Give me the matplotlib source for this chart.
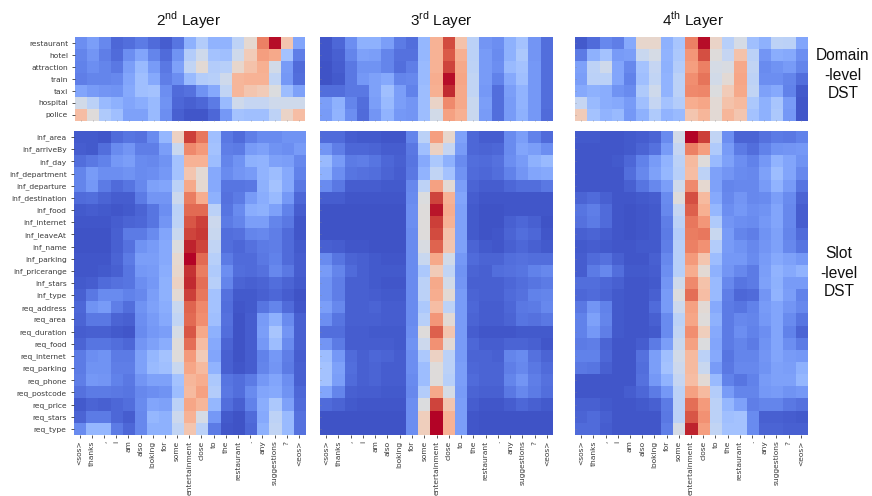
import matplotlib

matplotlib.use("Agg")
import matplotlib.pyplot as plt
import numpy as np
from matplotlib.colors import FuncNorm

plt.rcParams["font.family"] = ["Liberation Sans", "DejaVu Sans"]
plt.rcParams["mathtext.fontset"] = "custom"
plt.rcParams["mathtext.rm"] = "Liberation Sans"

tokens = ["<sos>", "thanks", ",", "i", "am", "also", "looking", "for", "some", "entertainment",
          "close", "to", "the", "restaurant", ".", "any", "suggestions", "?", "<eos>"]
domains = ["restaurant", "hotel", "attraction", "train", "taxi", "hospital", "police"]
slots = ["inf_area", "inf_arriveBy", "inf_day", "inf_department", "inf_departure", "inf_destination",
         "inf_food", "inf_internet", "inf_leaveAt", "inf_name", "inf_parking", "inf_pricerange",
         "inf_stars", "inf_type", "req_address", "req_area", "req_duration", "req_food",
         "req_internet", "req_parking", "req_phone", "req_postcode", "req_price", "req_stars",
         "req_type"]

# attention weights, 0-100
domain_2nd = [
    [20, 25, 18, 8, 10, 14, 9, 5, 12, 30, 40, 31, 31, 43, 55, 80, 99, 62, 27],
    [17, 22, 15, 9, 20, 27, 17, 9, 21, 40, 48, 36, 35, 48, 60, 73, 70, 36, 15],
    [16, 20, 17, 13, 25, 33, 24, 13, 26, 44, 54, 40, 41, 56, 63, 68, 49, 24, 9],
    [15, 17, 17, 18, 27, 35, 28, 15, 20, 33, 40, 41, 48, 66, 67, 67, 44, 23, 10],
    [27, 24, 22, 21, 28, 35, 36, 20, 9, 11, 21, 28, 44, 66, 62, 60, 52, 34, 26],
    [49, 42, 33, 30, 27, 29, 33, 21, 8, 6, 8, 14, 33, 48, 45, 45, 48, 48, 48],
    [64, 53, 39, 35, 26, 26, 33, 20, 6, 3, 3, 8, 23, 36, 35, 35, 43, 57, 64],
]
domain_3rd = [
    [3, 8, 20, 30, 30, 25, 14, 10, 32, 67, 91, 63, 42, 22, 20, 30, 36, 22, 10],
    [3, 6, 17, 26, 25, 17, 11, 11, 32, 67, 88, 68, 42, 24, 19, 30, 38, 22, 10],
    [2, 5, 13, 21, 21, 17, 10, 15, 33, 67, 92, 70, 43, 24, 20, 33, 36, 23, 10],
    [2, 4, 13, 23, 26, 28, 17, 18, 33, 69, 99, 71, 44, 24, 16, 28, 35, 23, 10],
    [10, 10, 13, 13, 26, 35, 25, 16, 34, 68, 96, 70, 44, 23, 10, 25, 31, 23, 10],
    [25, 30, 17, 10, 25, 33, 25, 22, 34, 57, 78, 70, 46, 25, 10, 24, 31, 23, 10],
    [24, 31, 20, 9, 22, 31, 23, 22, 34, 49, 72, 68, 46, 24, 10, 24, 30, 23, 9],
]
domain_4th = [
    [4, 9, 18, 15, 28, 56, 56, 30, 37, 80, 99, 57, 41, 50, 35, 30, 43, 42, 27],
    [14, 30, 36, 24, 25, 46, 50, 31, 38, 75, 90, 53, 45, 63, 42, 22, 29, 28, 20],
    [26, 43, 48, 27, 18, 36, 45, 30, 40, 73, 80, 50, 51, 70, 44, 19, 21, 24, 17],
    [25, 42, 42, 27, 16, 35, 44, 31, 42, 77, 83, 49, 54, 71, 43, 20, 20, 17, 10],
    [28, 30, 29, 21, 19, 39, 48, 31, 42, 78, 79, 52, 60, 70, 44, 26, 28, 16, 4],
    [45, 33, 29, 28, 24, 35, 45, 36, 40, 69, 71, 54, 63, 65, 38, 30, 37, 24, 3],
    [60, 36, 31, 33, 23, 30, 39, 31, 33, 62, 66, 54, 66, 62, 36, 30, 38, 23, 3],
]
slot_2nd = [
    [4, 4, 3, 9, 12, 11, 19, 32, 58, 93, 82, 35, 13, 9, 15, 19, 19, 21, 21],
    [5, 4, 10, 19, 22, 15, 15, 25, 46, 78, 74, 36, 15, 14, 24, 26, 21, 20, 24],
    [10, 13, 16, 23, 25, 19, 18, 21, 36, 67, 67, 34, 17, 21, 30, 31, 26, 25, 18],
    [17, 24, 20, 20, 21, 19, 20, 23, 36, 62, 54, 28, 19, 22, 24, 31, 34, 28, 16],
    [17, 23, 14, 9, 12, 18, 26, 27, 42, 70, 55, 28, 12, 12, 13, 30, 36, 28, 13],
    [9, 10, 7, 5, 5, 14, 22, 22, 47, 81, 69, 30, 11, 14, 24, 29, 33, 23, 8],
    [4, 5, 4, 3, 4, 7, 12, 20, 42, 85, 85, 42, 12, 19, 29, 30, 26, 16, 5],
    [3, 3, 3, 5, 7, 8, 12, 22, 43, 89, 93, 47, 14, 17, 25, 25, 17, 13, 3],
    [2, 2, 2, 6, 14, 14, 19, 27, 46, 92, 94, 46, 10, 11, 17, 18, 15, 9, 3],
    [2, 2, 2, 6, 11, 21, 24, 28, 52, 97, 92, 44, 10, 8, 11, 14, 15, 9, 4],
    [3, 3, 3, 7, 14, 25, 25, 28, 55, 100, 85, 41, 14, 9, 9, 13, 16, 9, 5],
    [3, 3, 4, 6, 12, 23, 24, 29, 56, 95, 81, 39, 20, 10, 9, 11, 18, 13, 5],
    [4, 5, 9, 11, 12, 20, 23, 30, 58, 96, 84, 41, 17, 7, 6, 7, 10, 7, 4],
    [6, 13, 19, 19, 16, 18, 25, 30, 54, 93, 82, 36, 11, 4, 4, 6, 8, 5, 2],
    [8, 21, 24, 15, 10, 21, 26, 29, 46, 86, 78, 36, 10, 3, 4, 12, 17, 9, 3],
    [7, 13, 13, 7, 6, 20, 24, 28, 44, 85, 77, 35, 11, 2, 5, 24, 30, 19, 6],
    [5, 6, 6, 4, 3, 19, 23, 25, 50, 89, 70, 30, 10, 2, 5, 25, 37, 22, 6],
    [7, 12, 12, 10, 8, 22, 26, 29, 53, 84, 64, 28, 7, 2, 5, 23, 34, 19, 6],
    [14, 20, 21, 14, 14, 26, 32, 36, 53, 74, 60, 27, 6, 2, 5, 16, 23, 15, 5],
    [14, 21, 21, 15, 15, 26, 33, 35, 46, 71, 65, 31, 6, 3, 5, 17, 22, 14, 6],
    [15, 23, 22, 16, 13, 22, 26, 26, 36, 66, 69, 38, 12, 10, 14, 23, 27, 20, 6],
    [11, 14, 14, 13, 12, 18, 20, 21, 34, 65, 72, 40, 13, 10, 19, 27, 28, 21, 8],
    [4, 7, 6, 8, 10, 19, 27, 26, 42, 71, 66, 32, 10, 6, 16, 29, 38, 26, 9],
    [7, 14, 14, 8, 5, 18, 32, 30, 47, 67, 50, 23, 4, 2, 9, 28, 43, 33, 11],
    [19, 32, 32, 14, 8, 18, 30, 30, 44, 62, 42, 14, 3, 2, 8, 30, 44, 33, 11],
]
slot_3rd = [
    [9, 9, 5, 4, 4, 3, 3, 17, 42, 73, 56, 26, 8, 5, 5, 19, 25, 16, 9],
    [22, 15, 8, 8, 7, 5, 5, 13, 35, 58, 45, 24, 8, 7, 8, 19, 27, 25, 20],
    [33, 24, 14, 15, 12, 8, 6, 12, 28, 38, 30, 19, 10, 9, 11, 20, 24, 30, 33],
    [30, 20, 12, 11, 10, 7, 5, 13, 31, 44, 36, 21, 9, 8, 10, 16, 22, 27, 28],
    [19, 13, 5, 5, 5, 4, 4, 18, 43, 72, 54, 25, 7, 5, 5, 8, 10, 10, 13],
    [5, 5, 3, 3, 3, 3, 3, 19, 52, 92, 67, 27, 5, 3, 3, 3, 3, 3, 3],
    [2, 2, 2, 2, 2, 2, 2, 20, 53, 98, 69, 26, 4, 2, 2, 3, 3, 3, 3],
    [2, 2, 2, 2, 2, 2, 2, 20, 53, 93, 67, 26, 4, 2, 2, 6, 8, 6, 2],
    [2, 2, 2, 2, 2, 2, 2, 19, 53, 91, 63, 26, 4, 2, 3, 7, 10, 8, 3],
    [6, 5, 3, 3, 2, 2, 2, 19, 51, 86, 62, 26, 7, 4, 3, 6, 8, 6, 4],
    [19, 12, 7, 6, 4, 3, 3, 19, 46, 70, 49, 23, 9, 7, 7, 10, 11, 10, 10],
    [24, 17, 9, 6, 4, 4, 4, 19, 38, 60, 44, 21, 7, 6, 10, 11, 12, 16, 18],
    [21, 15, 6, 6, 4, 3, 3, 19, 42, 70, 49, 22, 6, 6, 6, 8, 10, 12, 14],
    [21, 15, 6, 6, 5, 4, 4, 19, 42, 69, 54, 24, 7, 6, 6, 9, 11, 16, 17],
    [25, 18, 6, 6, 7, 5, 5, 19, 38, 64, 43, 24, 8, 5, 5, 8, 13, 14, 18],
    [20, 12, 6, 6, 6, 5, 5, 19, 41, 75, 54, 24, 7, 5, 5, 7, 12, 11, 13],
    [10, 10, 5, 5, 4, 4, 4, 20, 53, 87, 62, 24, 5, 3, 3, 3, 4, 4, 4],
    [22, 14, 5, 5, 5, 5, 4, 21, 47, 76, 54, 24, 8, 5, 5, 7, 7, 6, 3],
    [34, 23, 9, 6, 8, 7, 5, 20, 38, 58, 42, 24, 7, 7, 6, 17, 19, 11, 7],
    [36, 26, 10, 6, 7, 5, 5, 20, 34, 53, 42, 25, 8, 7, 7, 15, 18, 13, 9],
    [36, 25, 9, 6, 7, 5, 5, 19, 34, 53, 41, 25, 9, 7, 7, 17, 22, 15, 11],
    [27, 17, 6, 5, 5, 4, 4, 18, 40, 70, 50, 24, 7, 6, 6, 13, 18, 14, 10],
    [9, 7, 4, 3, 3, 3, 3, 20, 52, 92, 62, 25, 5, 3, 3, 5, 8, 6, 4],
    [2, 2, 2, 2, 2, 2, 2, 20, 59, 100, 67, 25, 3, 2, 2, 2, 2, 2, 2],
    [2, 2, 2, 2, 2, 2, 2, 20, 59, 100, 67, 25, 3, 2, 2, 2, 2, 2, 2],
]
slot_4th = [
    [4, 4, 3, 3, 4, 5, 7, 19, 49, 100, 93, 44, 20, 7, 7, 11, 14, 13, 16],
    [3, 3, 3, 3, 4, 7, 11, 24, 45, 80, 73, 39, 24, 14, 10, 16, 21, 22, 23],
    [3, 3, 3, 4, 8, 16, 24, 31, 42, 65, 53, 33, 26, 20, 16, 23, 31, 27, 21],
    [3, 3, 3, 3, 10, 18, 26, 32, 41, 64, 43, 26, 22, 19, 18, 26, 34, 27, 18],
    [3, 3, 3, 3, 6, 12, 18, 25, 48, 78, 55, 26, 17, 18, 18, 24, 31, 24, 12],
    [7, 9, 6, 3, 3, 4, 5, 19, 53, 90, 65, 28, 18, 22, 18, 19, 25, 19, 7],
    [12, 15, 9, 3, 2, 3, 4, 18, 45, 87, 68, 32, 20, 23, 20, 21, 27, 18, 5],
    [11, 14, 9, 3, 2, 3, 4, 15, 42, 82, 75, 39, 22, 20, 19, 23, 27, 18, 5],
    [6, 7, 5, 3, 2, 3, 4, 14, 40, 81, 82, 46, 24, 17, 15, 21, 26, 17, 9],
    [4, 5, 4, 3, 3, 4, 4, 15, 41, 80, 76, 40, 24, 21, 18, 22, 26, 18, 12],
    [5, 9, 11, 6, 3, 3, 6, 18, 41, 74, 62, 34, 23, 23, 19, 24, 28, 26, 23],
    [5, 14, 18, 10, 4, 4, 5, 20, 41, 69, 54, 30, 22, 18, 14, 25, 31, 28, 31],
    [10, 10, 8, 6, 3, 3, 4, 22, 48, 78, 63, 33, 18, 12, 14, 26, 30, 24, 24],
    [8, 9, 7, 4, 3, 3, 6, 24, 52, 84, 64, 33, 15, 8, 9, 22, 31, 25, 16],
    [13, 22, 16, 4, 3, 3, 9, 24, 47, 72, 54, 28, 14, 12, 16, 24, 27, 22, 18],
    [16, 26, 17, 4, 3, 3, 6, 19, 42, 71, 53, 30, 14, 18, 17, 23, 27, 19, 12],
    [16, 23, 15, 4, 3, 3, 4, 19, 44, 77, 59, 28, 14, 20, 16, 20, 27, 16, 7],
    [14, 15, 7, 3, 3, 5, 14, 25, 46, 72, 52, 27, 14, 17, 14, 21, 27, 20, 14],
    [16, 16, 8, 3, 3, 11, 25, 35, 49, 65, 42, 28, 12, 17, 17, 22, 27, 24, 23],
    [13, 12, 6, 3, 3, 10, 25, 36, 47, 65, 46, 24, 13, 18, 18, 21, 26, 25, 30],
    [3, 3, 3, 3, 3, 11, 23, 31, 45, 64, 54, 33, 16, 12, 16, 24, 26, 26, 32],
    [3, 3, 3, 3, 5, 8, 14, 23, 42, 72, 65, 40, 24, 17, 17, 23, 24, 21, 23],
    [6, 6, 4, 3, 3, 4, 6, 14, 42, 84, 74, 42, 32, 26, 15, 17, 17, 13, 11],
    [7, 9, 6, 3, 3, 3, 3, 13, 42, 89, 76, 42, 35, 36, 19, 6, 6, 5, 4],
    [9, 9, 5, 3, 3, 3, 3, 15, 50, 97, 73, 44, 36, 36, 19, 7, 7, 6, 6],
]

W, H = 872, 496
text_color = "#3a3a3a"

# my readings run high on the blue side and low on the peach side, so bend the scale a bit
read_points = [0, 25, 50, 66, 100]
map_points = [0, 0.2, 0.47, 0.67, 1]
norm = FuncNorm((lambda v: np.interp(v, read_points, map_points),
                 lambda m: np.interp(m, map_points, read_points)), vmin=0, vmax=100)


def add_axes(left, right, top, bottom):
    # pixel box of the reference -> figure fractions
    return fig.add_axes([left / W, 1 - bottom / H, (right - left) / W, (bottom - top) / H])


def heatmap(ax, values, ylabels=None, xlabels=None):
    ax.imshow(np.array(values), cmap="coolwarm", norm=norm, aspect="auto",
              interpolation="antialiased")
    for spine in ax.spines.values():
        spine.set_visible(False)
    ax.set_xticks(range(len(values[0])))
    ax.set_yticks(range(len(values)))
    ax.set_xticklabels(xlabels if xlabels else [])
    ax.set_yticklabels(ylabels if ylabels else [])
    ax.tick_params(axis="x", length=2.5, width=0.6, pad=1.5, color=text_color,
                   labelsize=5.4, labelcolor=text_color, labelrotation=90)
    ax.tick_params(axis="y", length=2.5, width=0.6, pad=2.5, color=text_color,
                   labelsize=5.4, labelcolor=text_color)
    # panels without labels only show tiny tick stubs on the edge of the cells
    if not xlabels:
        ax.tick_params(axis="x", direction="in", length=1, width=0.4, color="#888888")
    if not ylabels:
        ax.tick_params(axis="y", direction="in", length=1, width=0.4, color="#888888")
    for label in ax.get_xticklabels() + ax.get_yticklabels():
        label.set_family("DejaVu Sans")


fig = plt.figure(figsize=(W / 100, H / 100), dpi=100)

domain_cols = [(75, 305), (320, 553), (574.5, 807)]
slot_cols = [(73.5, 305), (320, 553), (575, 807)]
title_centers = [188.5, 441, 693]
titles = ["2$^{\\mathrm{nd}}$ Layer", "3$^{\\mathrm{rd}}$ Layer", "4$^{\\mathrm{th}}$ Layer"]
domain_data = [domain_2nd, domain_3rd, domain_4th]
slot_data = [slot_2nd, slot_3rd, slot_4th]

for i in range(3):
    heatmap(add_axes(*domain_cols[i], 37, 121), domain_data[i], domains if i == 0 else None)
    heatmap(add_axes(*slot_cols[i], 131, 435), slot_data[i], slots if i == 0 else None, tokens)
    fig.text(title_centers[i] / W, 1 - 20 / H, titles[i], ha="center", va="center",
             fontsize=11, color="#111111")

for x, y, label in [(843, 55, "Domain"), (843, 75, "-level"), (843, 93, "DST"),
                    (839, 253, "Slot"), (839, 273, "-level"), (839, 292, "DST")]:
    fig.text(x / W, 1 - y / H, label, ha="center", va="center", fontsize=11.2, color="#111111")

fig.savefig("out.png", dpi=100)
